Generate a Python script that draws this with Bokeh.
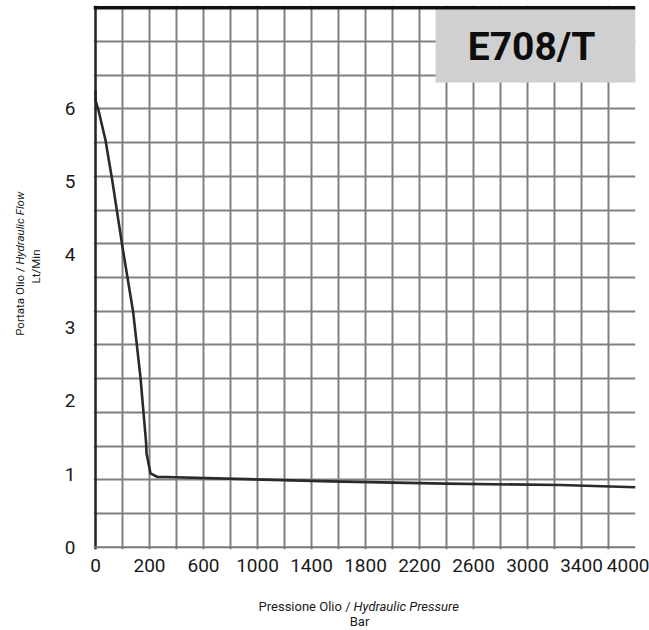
from bokeh.plotting import figure
from bokeh.layouts import row, column
from bokeh.models import FixedTicker, Span, BoxAnnotation, Label
from bokeh.core.properties import value
from bokeh.embed import file_html
from bokeh.resources import INLINE
from math import pi

# ---- data ----
pressure = [0, 0, 22, 74, 124, 198, 279, 333, 375, 378, 407, 459, 519, 1741, 2593, 3444, 4000]
flow = [6.24, 6.10, 5.97, 5.56, 5.01, 4.12, 3.21, 2.32, 1.42, 1.28, 1.01, 0.96, 0.96, 0.90, 0.87, 0.85, 0.82]

x_tick_pos = [0, 400, 800, 1200, 1600, 2000, 2400, 2800, 3200, 3600, 4000]
x_tick_labels = ["0", "200", "600", "1000", "1400", "1800", "2200", "2600", "3000", "3400", "4000"]
y_ticks = [0, 1, 2, 3, 4, 5, 6]
Y_MAX = 7.37
X_MAX = 4000
title_text = "E708/T"
x_title_a = "Pressione Olio /"
x_title_b = "Hydraulic Pressure"
x_unit = "Bar"
y_title_a = "Portata Olio /"
y_title_b = "Hydraulic Flow"
y_unit = "Lt/Min"

FONT = "Roboto"
TXT = "#1a1a1a"

# ---- main chart ----
p = figure(width=589, height=590, x_range=(-15, X_MAX), y_range=(-0.03, 7.40),
           output_backend="svg", toolbar_location=None,
           min_border_left=33, min_border_right=14, min_border_top=5, min_border_bottom=41)
p.outline_line_color = None

for ax in (p.xaxis[0], p.yaxis[0]):
    ax.axis_line_color = None
    ax.major_tick_line_color = None
    ax.minor_tick_line_color = None
    ax.major_label_text_font = FONT
    ax.major_label_text_font_size = "19px"
    ax.major_label_text_color = TXT

p.xaxis.ticker = FixedTicker(ticks=x_tick_pos)
p.xaxis.major_label_overrides = {t: l for t, l in zip(x_tick_pos, x_tick_labels)}
p.xaxis.major_label_standoff = 3
p.yaxis.ticker = FixedTicker(ticks=y_ticks)
p.yaxis.major_label_standoff = 12

p.xgrid.ticker = FixedTicker(ticks=list(range(200, X_MAX, 200)))
p.ygrid.ticker = FixedTicker(ticks=[k * Y_MAX / 16 for k in range(1, 16)])
for g in (p.xgrid[0], p.ygrid[0]):
    g.grid_line_color = "#808080"
    g.grid_line_width = 2

# frame borders
p.add_layout(Span(location=0, dimension="height", line_color="#222222", line_width=2.5))
p.add_layout(Span(location=0, dimension="width", line_color="#777777", line_width=2))

# title box
p.add_layout(BoxAnnotation(left=2519, right=X_MAX, bottom=6.35, top=Y_MAX,
                           fill_color="#d0d0d0", fill_alpha=1, line_color=None))
p.add_layout(Span(location=Y_MAX, dimension="width", line_color="#111111", line_width=3.5))
p.add_layout(Label(x=3230, y=6.83, text=title_text, text_font=FONT, text_font_style="bold",
                   text_font_size="39px", text_align="center", text_baseline="middle",
                   text_color="#0d0d0d"))

# curve
p.line(pressure, flow, line_width=2.6, line_color="#2a2a2a", line_join="round")

# ---- y title strip ----
yf = figure(width=60, height=590, x_range=(0, 60), y_range=(0, 590),
            output_backend="svg", toolbar_location=None,
            x_axis_location=None, y_axis_location=None,
            min_border_left=0, min_border_right=0, min_border_top=0, min_border_bottom=0)
yf.outline_line_color = None
yf.grid.visible = False
yf.text(x=[19], y=[306], text=[y_title_a], angle=pi / 2, text_font=value(FONT),
        text_font_size="11.5px", text_align="right", text_baseline="middle", text_color=TXT)
yf.text(x=[19], y=[309], text=[y_title_b], angle=pi / 2, text_font=value(FONT),
        text_font_size="11.5px", text_font_style="italic", text_align="left",
        text_baseline="middle", text_color=TXT)
yf.text(x=[35], y=[307], text=[y_unit], angle=pi / 2, text_font=value(FONT),
        text_font_size="11.5px", text_align="center", text_baseline="middle", text_color=TXT)

# ---- x title strip ----
xf = figure(width=649, height=40, x_range=(0, 649), y_range=(0, 40),
            output_backend="svg", toolbar_location=None,
            x_axis_location=None, y_axis_location=None,
            min_border_left=0, min_border_right=0, min_border_top=0, min_border_bottom=0)
xf.outline_line_color = None
xf.grid.visible = False
xf.text(x=[350], y=[24], text=[x_title_a], text_font=value(FONT), text_font_size="13px",
        text_align="right", text_baseline="middle", text_color=TXT)
xf.text(x=[353], y=[24], text=[x_title_b], text_font=value(FONT), text_font_size="13px",
        text_font_style="italic", text_align="left", text_baseline="middle", text_color=TXT)
xf.text(x=[359], y=[9], text=[x_unit], text_font=value(FONT), text_font_size="13px",
        text_align="center", text_baseline="middle", text_color=TXT)

layout = column(row(yf, p), xf)
open("out.html", "w").write(file_html(layout, INLINE))
